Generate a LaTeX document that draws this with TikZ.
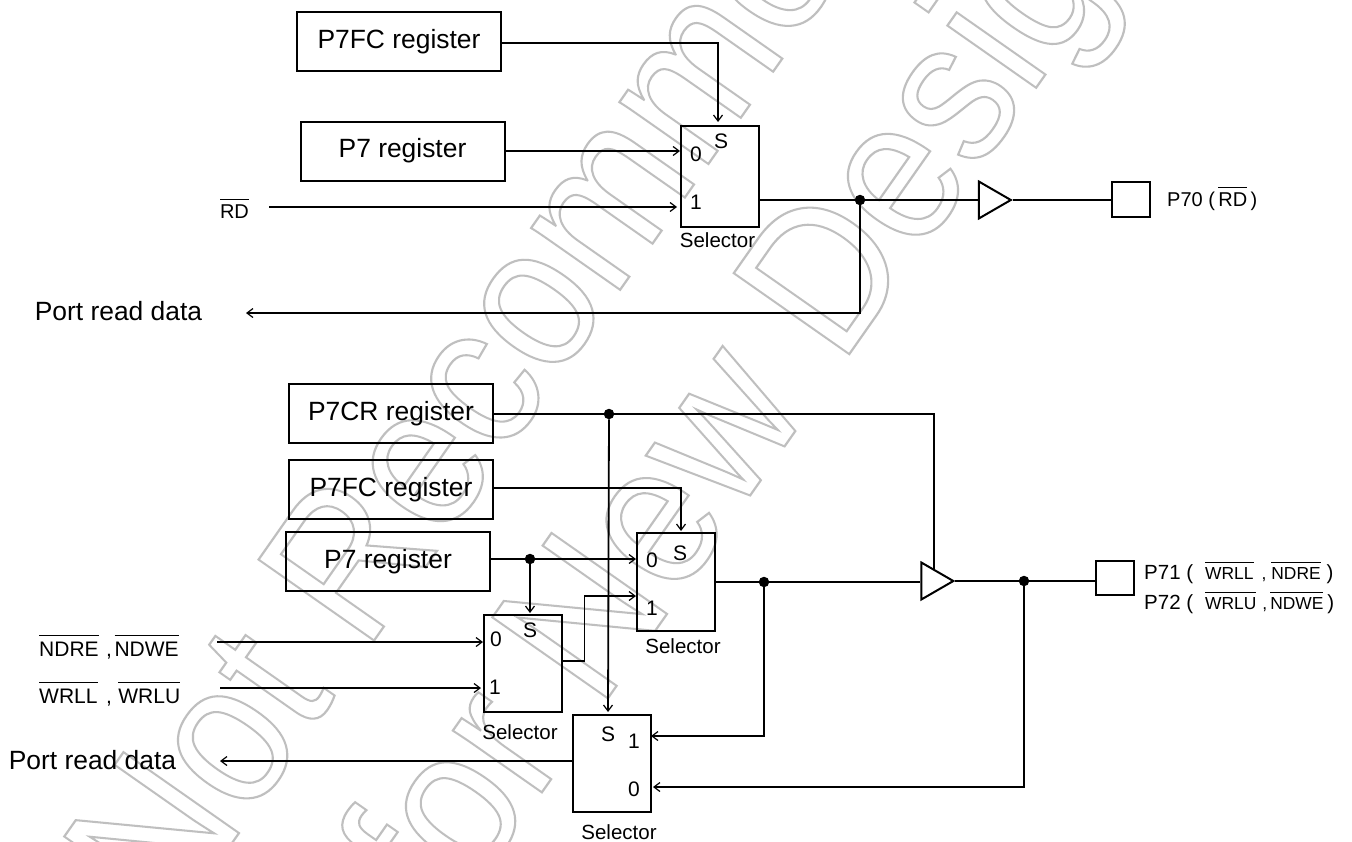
\documentclass[tikz,border=0pt]{standalone}
\usepackage{fontspec}
\setmainfont{Liberation Sans}
\usetikzlibrary{arrows.meta,shapes.geometric}
\newcommand\fsz[1]{\fontsize{#1}{#1}\selectfont}
\newcommand\olb[2][4.2pt]{\leavevmode\vbox{\hrule height 1pt \kern #1 \hbox{#2}}}
\newcommand\wmark[1]{\special{pdf:code 1 Tr 2.2 w 0.75 G}#1\special{pdf:code 0 Tr 1 w 0 G}}
\tikzset{
  wire/.style={line width=1.8pt,black},
  arr/.style={wire,-{Straight Barb[length=6pt,width=9pt,line width=1.2pt]}},
  regbox/.style={draw,line width=2pt,minimum width=204pt,minimum height=59pt,inner sep=0pt,font=\fsz{26.4}},
  selbox/.style={draw,line width=2pt,minimum width=78pt,minimum height=98pt,inner sep=0pt},
  padbox/.style={draw,line width=2pt,minimum width=38pt,minimum height=35pt,inner sep=0pt},
  lab/.style={inner sep=0pt,font=\fsz{21}},
  sellab/.style={inner sep=0pt,font=\fsz{20.5}},
  bigtxt/.style={inner sep=0pt,font=\fsz{26.4}},
  dot/.style={circle,fill=black,draw=none,minimum size=10.5pt,inner sep=0pt},
  buf/.style={draw,line width=2pt,isosceles triangle,isosceles triangle apex angle=60,isosceles triangle stretches,minimum width=37pt,minimum height=32pt,inner sep=0pt},
  wm/.style={inner sep=0pt,anchor=base west,transform shape,font=\fsz{205}}
}
\begin{document}
\begin{tikzpicture}[x=1pt,y=-1pt]
\useasboundingbox (0,0) rectangle (1352,841);
\fill[white] (0,0) rectangle (1352,841);
% watermark
\begin{scope}
\clip (0,0) rectangle (1352,841);
\begin{scope}[cm={0.517,0.737,-0.819,0.574,(171,930)}]
\node[wm] (wmA) at (0,0) {\wmark{Not Recommended}};
\end{scope}
\begin{scope}[cm={0.517,0.737,-0.819,0.574,(446,929)}]
\node[wm] (wmB) at (0,0) {\wmark{for New Design}};
\end{scope}
\end{scope}
% upper block
\node[regbox] (fcA) at (399,41.5) {P7FC register};
\node[regbox] (pA) at (402.5,151) {P7 register};
\node[selbox,minimum height=101pt] (selA) at (720,176.5) {};
\node[lab] (selAs) at (721,141) {S};
\node[lab] (selA0) at (696,154) {0};
\node[lab] (selA1) at (696,202) {1};
\node[sellab] (selAl) at (717.5,240) {Selector};
\coordinate (selAin0) at (680,151);
\coordinate (selAin1) at (677,207);
\coordinate (selAinS) at (718,122);
\coordinate (rdStart) at (269,207);
\node[inner sep=0pt,font=\fsz{20},anchor=base] (rdL) at (234.5,218) {\olb{RD}};
\node[dot] (jA) at (860,200) {};
\node[buf] (bufA) at (989.5,200) {};
\node[padbox] (padA) at (1131,199) {};
\node[inner sep=0pt,font=\fsz{20},anchor=base west] (padAl) at (1167,206) {P70 (\,\olb{RD}\,)};
\coordinate (portA) at (246,313);
\node[bigtxt] (portAl) at (118.5,311) {Port read data};
\draw[arr] (fcA.east |- 0,43) -| (selAinS);
\draw[arr] (pA.east) -- (selAin0);
\draw[arr] (rdStart) -- (selAin1);
\draw[wire] (selA.east |- jA) -- (jA);
\draw[wire] (jA) -- (bufA.west);
\draw[wire] (bufA.apex) -- (padA.west |- bufA.apex);
\draw[arr] (jA) |- (portA);
% lower block
\node[regbox] (crB) at (391,413.5) {P7CR register};
\node[regbox] (fcB) at (391,489.5) {P7FC register};
\node[regbox] (pB) at (388,561.5) {P7 register};
\node[selbox] (selB) at (675.5,582) {};
\node[lab] (selBs) at (680,553) {S};
\node[lab] (selB0) at (652,560) {0};
\node[lab] (selB1) at (652,608) {1};
\node[sellab] (selBl) at (683,646) {Selector};
\node[selbox,minimum height=97pt] (selC) at (523,663.5) {};
\node[lab] (selCs) at (530,630) {S};
\node[lab] (selC0) at (496,639) {0};
\node[lab] (selC1) at (495,687) {1};
\node[sellab] (selCl) at (520,732) {Selector};
\node[selbox,minimum height=97pt] (selD) at (611.5,763.5) {};
\node[lab] (selDs) at (608,734) {S};
\node[lab] (selD1) at (634,741) {1};
\node[lab] (selD0) at (634,789) {0};
\node[sellab] (selDl) at (619,832) {Selector};
\node[dot] (jCR) at (609,414) {};
\node[dot] (jP) at (530,559) {};
\node[dot] (jB) at (764,582) {};
\node[dot] (jO) at (1024,581) {};
\node[buf] (bufB) at (932,581) {};
\node[padbox,minimum height=34pt] (padB) at (1114.5,578) {};
\coordinate (cSel) at (934,569);
\coordinate (fcBin) at (681,531);
\coordinate (selB0in) at (636,559);
\coordinate (selB1in) at (636,596);
\coordinate (selCin0) at (483,642);
\coordinate (selCin1) at (481,688);
\coordinate (selCinS) at (530,613);
\coordinate (selDinS) at (608,712);
\coordinate (selDin1) at (651,736);
\coordinate (selDin0) at (653,787);
\coordinate (selCoutMid) at (584.5,661);
\coordinate (ndStart) at (217,642);
\coordinate (wrStart) at (220,688);
\coordinate (portB) at (220,761);
\node[bigtxt] (portBl) at (92.5,760) {Port read data};
\node[inner sep=0pt,font=\fsz{21},anchor=base west] (ndL) at (39,656) {\olb[6pt]{NDRE}\hspace{7.5pt},\hspace{2.5pt}\olb[6pt]{NDWE}};
\node[inner sep=0pt,font=\fsz{21},anchor=base west] (wrL) at (39,703) {\olb[5.5pt]{WRLL}\hspace{8.5pt},\hspace{6.5pt}\olb[5.5pt]{WRLU}};
\node[inner sep=0pt,font=\fsz{20.5},anchor=base west] (p71) at (1144,579) {P71 (\hspace{12pt}{\fsz{17.4}\olb{WRLL}\hspace{8pt},\hspace{5pt}\olb{NDRE}}\hspace{6pt})};
\node[inner sep=0pt,font=\fsz{20.5},anchor=base west] (p72) at (1144,609) {P72 (\hspace{12pt}{\fsz{17.4}\olb{WRLU}\hspace{6pt},\hspace{3pt}\olb{NDWE}}\hspace{4pt})};
\draw[wire] (crB.east |- jCR) -- (jCR) -- (jCR -| cSel) -- (cSel);
\draw[arr] (jCR) -- (selDinS);
\draw[arr] (fcB.east |- 0,488) -| (fcBin);
\draw[arr] (pB.east |- jP) -- (jP) -- (selB0in);
\draw[arr] (jP) -- (selCinS);
\draw[arr] (ndStart) -- (selCin0);
\draw[arr] (wrStart) -- (selCin1);
\draw[arr] (selC.east |- selCoutMid) -- (selCoutMid) -- (selCoutMid |- selB1in) -- (selB1in);
\draw[wire] (selB.east |- jB) -- (jB) -- (bufB.west |- jB);
\draw[wire] (bufB.apex) -- (jO) -- (padB.west |- jO);
\draw[arr] (jB) |- (selDin1);
\draw[arr] (jO) |- (selDin0);
\draw[arr] (selD.west |- portB) -- (portB);
\end{tikzpicture}
\end{document}
